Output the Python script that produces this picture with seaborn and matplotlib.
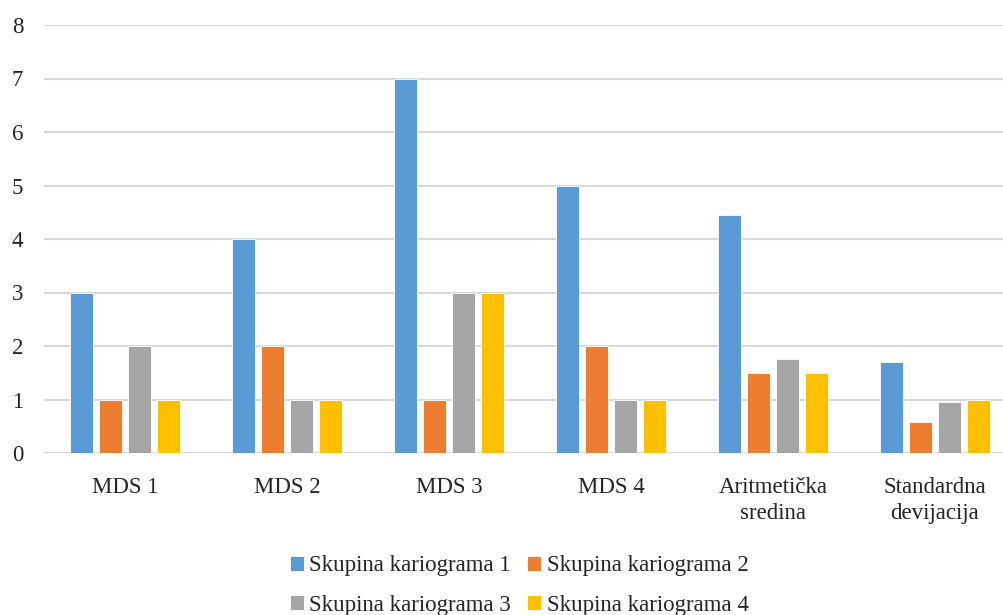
import matplotlib.pyplot as plt
import pandas as pd
import seaborn as sns

# Data
categories = ['MDS 1', 'MDS 2', 'MDS 3', 'MDS 4', 'Aritmetička\nsredina', 'Standardna\ndevijacija']
series_names = ['Skupina kariograma 1', 'Skupina kariograma 2',
                'Skupina kariograma 3', 'Skupina kariograma 4']
group1 = [3, 4, 7, 5, 4.45, 1.71]
group2 = [1, 2, 1, 2, 1.5, 0.58]
group3 = [2, 1, 3, 1, 1.75, 0.96]
group4 = [1, 1, 3, 1, 1.5, 1.0]
colors = ['#5B9BD5', '#ED7D31', '#A5A5A5', '#FFC000']

rows = []
for name, vals in zip(series_names, [group1, group2, group3, group4]):
    for cat, v in zip(categories, vals):
        rows.append({'category': cat, 'series': name, 'value': v})
df = pd.DataFrame(rows)

sns.set_style('white')
plt.rcParams['font.family'] = ['Liberation Serif', 'DejaVu Serif']

fig = plt.figure(figsize=(10.04, 6.15), dpi=100)
ax = fig.add_axes([44 / 1004, 1 - 453 / 615, (1016 - 44) / 1004, (453 - 25) / 615])

sns.barplot(data=df, x='category', y='value', hue='series', order=categories,
            hue_order=series_names, palette=colors, width=0.72, gap=0.2,
            edgecolor='white', linewidth=0.6, ax=ax, errorbar=None, saturation=1)

ax.set_ylim(0, 8)
ax.set_yticks(range(0, 9))
ax.yaxis.grid(True, color='#d9d9d9', linewidth=1.5)
ax.set_axisbelow(True)
for s in ax.spines.values():
    s.set_visible(False)
ax.set_xlabel('')
ax.set_ylabel('')
ax.tick_params(axis='both', length=0, labelsize=16.5)
ax.tick_params(axis='x', pad=17)
ax.tick_params(axis='y', pad=15)
for lbl in ax.get_xticklabels():
    lbl.set_linespacing(1.35)

handles, labels = ax.get_legend_handles_labels()
ax.legend_.remove()
order = [0, 2, 1, 3]  # row-wise: 1 2 / 3 4
fig.legend([handles[i] for i in order], [labels[i] for i in order],
           loc='upper center', bbox_to_anchor=(0.517, 1 - 544 / 615),
           ncol=2, frameon=False, fontsize=16.5, handlelength=0.6, handleheight=0.6,
           handletextpad=0.25, columnspacing=0.7, labelspacing=0.8, borderpad=0)

fig.savefig('out.png', dpi=100)
